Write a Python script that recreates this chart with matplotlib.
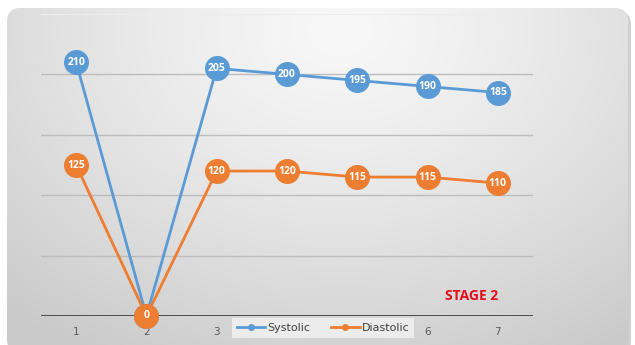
import numpy as np
import matplotlib.pyplot as plt
from matplotlib.patches import FancyBboxPatch

days = [1, 2, 3, 4, 5, 6, 7]
systolic = [210, 0, 205, 200, 195, 190, 185]
diastolic = [125, 0, 120, 120, 115, 115, 110]

blue = "#5b9bd5"
orange = "#ed7d31"
W, H = 635, 345

fig = plt.figure(figsize=(W / 100, H / 100), dpi=100)
fig.patch.set_facecolor("white")

# card background with soft gray gradient
bg = fig.add_axes([0, 0, 1, 1], zorder=-10)
bg.set_xlim(0, W)
bg.set_ylim(H, 0)
bg.axis("off")

shadow = FancyBboxPatch((10, 11), W - 14, H, boxstyle="round,pad=0,rounding_size=14",
                        fc="#c4c4c4", ec="none", alpha=0.8)
bg.add_patch(shadow)
card = FancyBboxPatch((7, 8), W - 14, H, boxstyle="round,pad=0,rounding_size=14",
                      fc="#e6e6e6", ec="none")
bg.add_patch(card)

yy, xx = np.mgrid[0:H, 0:W]
d = np.sqrt(((xx - 340) / 480.0) ** 2 + ((yy - 30) / 360.0) ** 2)
shade = np.clip(0.97 - 0.17 * d ** 1.3, 0.79, 0.97)
img = bg.imshow(np.dstack([shade] * 3), extent=(0, W, H, 0), zorder=1)
img.set_clip_path(card)

ax = fig.add_axes([41 / W, 1 - 316 / H, 492 / W, 302 / H])
ax.set_facecolor("none")
ax.set_xlim(0.5, 7.5)
ax.set_ylim(0, 250)

for v in [50, 100, 150, 200]:
    ax.axhline(v, color="#bdbdbd", lw=1.0, zorder=1)
ax.axhline(250, color="#ececec", lw=1.0, zorder=1)
ax.axhline(0, color="#404040", lw=2.0, zorder=2)

# systolic first so diastolic sits on top, as in the series order
for i, (vals, c, name) in enumerate([(systolic, blue, "Systolic"),
                                     (diastolic, orange, "Diastolic")]):
    ax.plot(days, vals, color=c, lw=2.0, marker="o", ms=17, mfc=c, mec=c,
            zorder=3 + 2 * i, label=name, clip_on=False)
    for x, v in zip(days, vals):
        ax.text(x, v, str(v), color="white", fontsize=7.5, fontweight="bold",
                ha="center", va="center", zorder=4 + 2 * i, family="Open Sans")

for s in ax.spines.values():
    s.set_visible(False)
ax.set_yticks([])
ax.set_xticks(days)
ax.tick_params(axis="x", length=0, pad=8, labelsize=7.5, labelcolor="#595959")

fig.text(472 / W, 1 - 296 / H, "STAGE 2", color="#e3101a", fontsize=10,
         fontweight="bold", ha="center", va="center", family="Open Sans")

h, l = ax.get_legend_handles_labels()
leg_handles = []
for hd in h:
    hd2, = ax.plot([], [], color=hd.get_color(), lw=2.0, marker="o", ms=4)
    leg_handles.append(hd2)
leg = fig.legend(leg_handles, l, loc="center", bbox_to_anchor=(323 / W, 1 - 328 / H),
                 ncol=2, frameon=True, fancybox=False, fontsize=8, handlelength=2.6,
                 columnspacing=1.8, handletextpad=0.2, borderpad=0.45)
leg.get_frame().set_facecolor("#ececec")
leg.get_frame().set_edgecolor("none")
leg.get_frame().set_alpha(1)
for t in leg.get_texts():
    t.set_color("#404040")

fig.savefig("out.png", dpi=100)
